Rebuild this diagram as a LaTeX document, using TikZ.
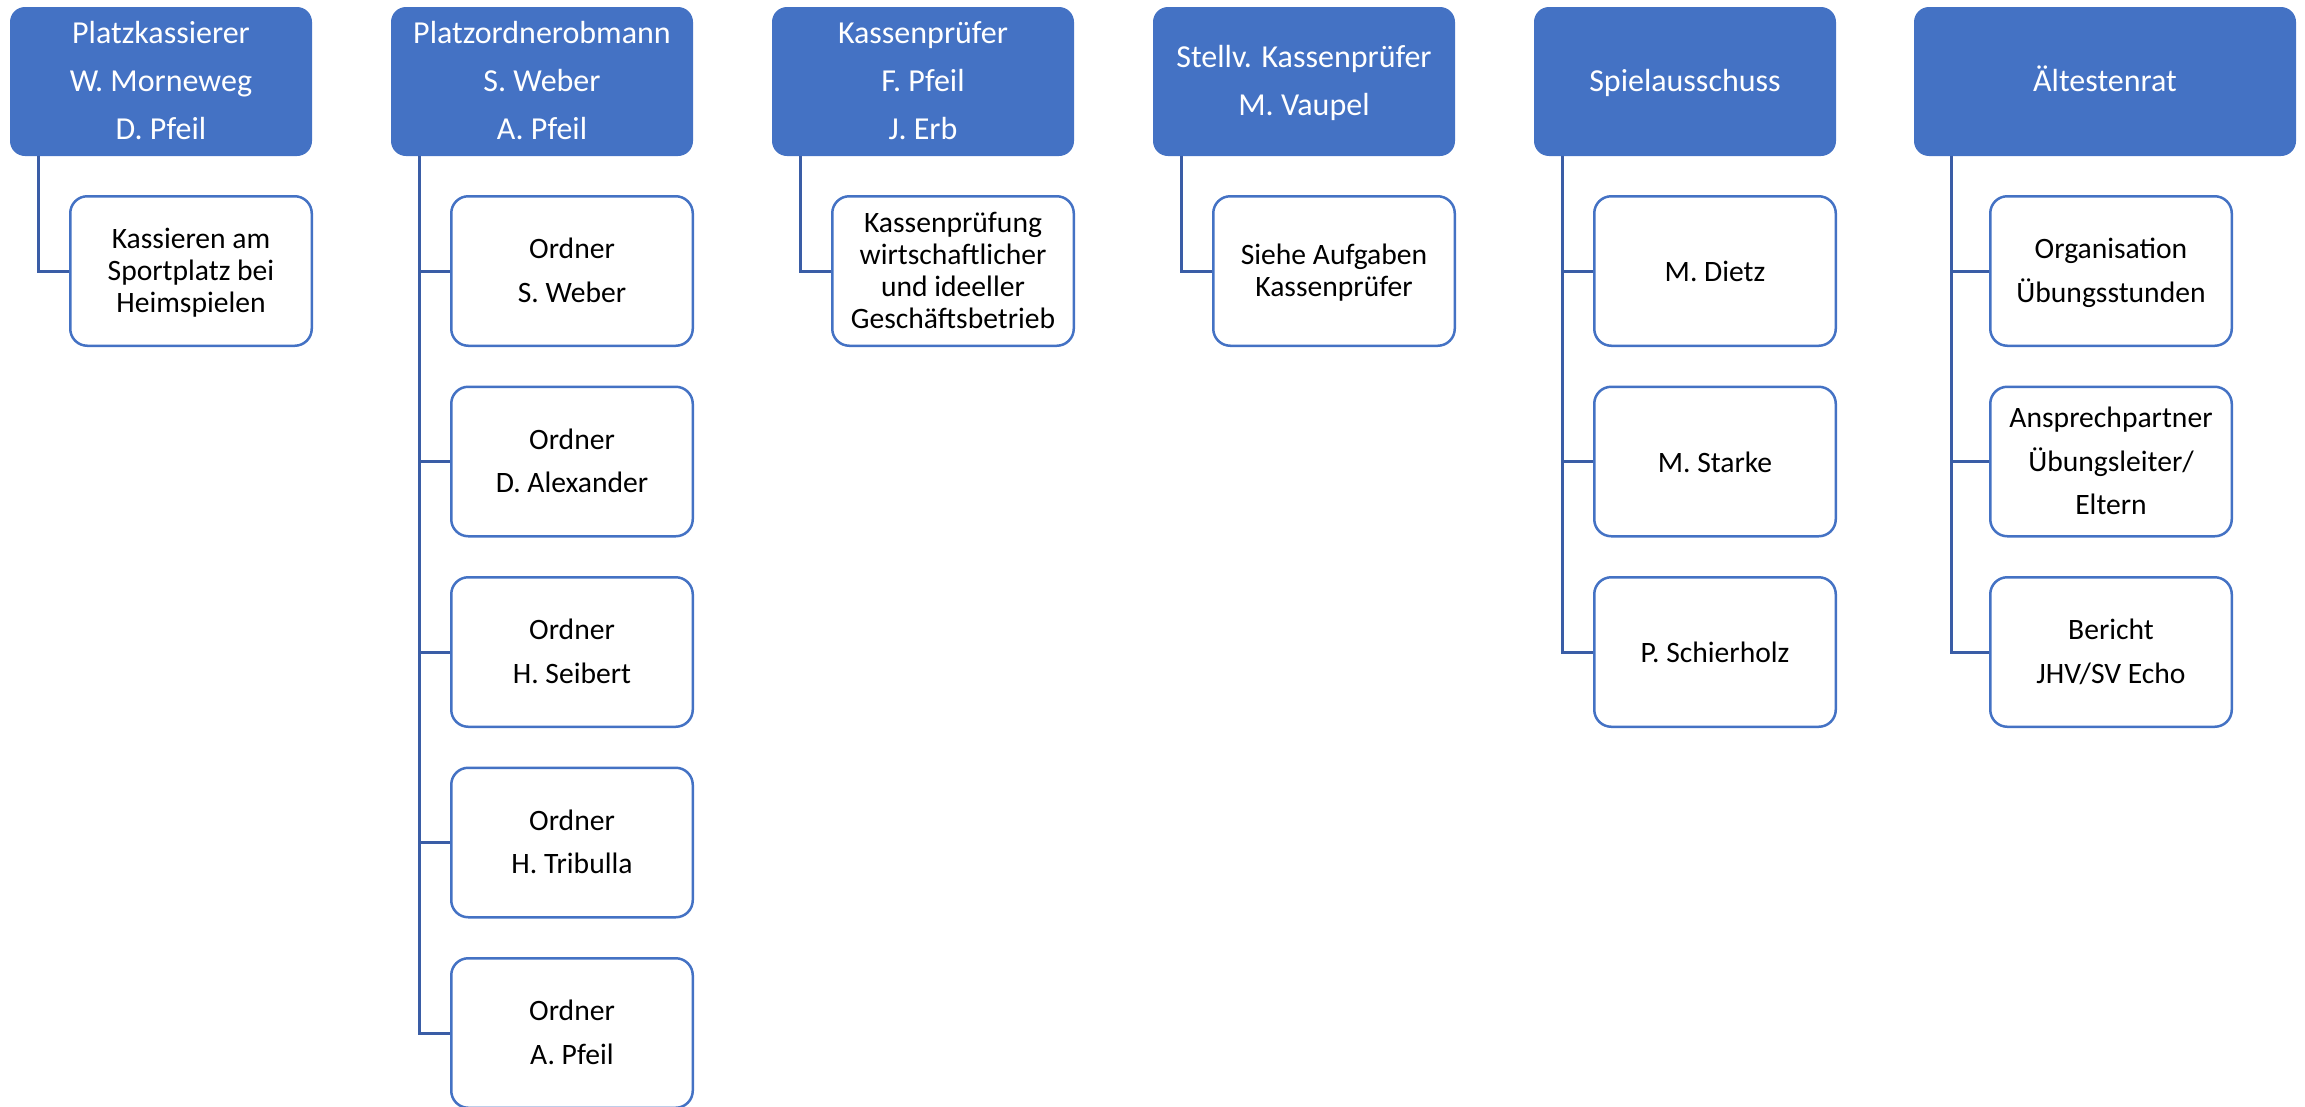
\documentclass[tikz,border=0pt]{standalone}
\usepackage{fontspec}
\setmainfont{Carlito}
\definecolor{headblue}{HTML}{4472C4}
\definecolor{linkblue}{HTML}{3A5DA6}
\newcommand\hstr{\rule[-6.5pt]{0pt}{33pt}}
\newcommand\cstr{\rule[-6pt]{0pt}{31pt}}
\newcommand\sstr{\rule[-5pt]{0pt}{31pt}}
\begin{document}
\begin{tikzpicture}[x=1pt,y=-1pt,
  headbox/.style={fill=headblue, draw=none, rounded corners=15pt, minimum width=302pt, minimum height=149pt, inner sep=0pt, text=white, align=center, font=\fontsize{32}{48.3}\selectfont},
  childbox/.style={draw=headblue, line width=2.5pt, fill=white, rounded corners=17pt, minimum width=241.5pt, minimum height=149.5pt, inner sep=0pt, align=center, font=\fontsize{29.6}{43.8}\selectfont},
  tight/.style={font=\fontsize{29.6}{31.7}\selectfont},
  conn/.style={draw=linkblue, line width=3pt}]
\useasboundingbox (0,0) rectangle (2305,1106);
% heads
\node[headbox] (h1) at (161,81.5) {\hstr Platzkassierer\\W. Morneweg\\D. Pfeil\hstr};
\node[headbox] (h2) at (542,81.5) {\hstr Platzordnerobmann\\S. Weber\\A. Pfeil\hstr};
\node[headbox] (h3) at (923,81.5) {\hstr Kassenprüfer\\F. Pfeil\\J. Erb\hstr};
\node[headbox] (h4) at (1304,81.5) {\hstr Stellv. Kassenprüfer\\M. Vaupel\hstr};
\node[headbox] (h5) at (1685,81.5) {\hstr Spielausschuss};
\node[headbox, minimum width=382pt] (h6) at (2105,81.5) {\hstr Ältestenrat};
% children
\node[childbox, tight] (c1a) at (191,271) {\cstr Kassieren am\\Sportplatz bei\\Heimspielen\cstr};
\node[childbox] (c2a) at (572,271) {\cstr Ordner\\S. Weber\cstr};
\node[childbox] (c2b) at (572,461.5) {\cstr Ordner\\D. Alexander\cstr};
\node[childbox] (c2c) at (572,652) {\cstr Ordner\\H. Seibert\cstr};
\node[childbox] (c2d) at (572,842.5) {\cstr Ordner\\H. Tribulla\cstr};
\node[childbox] (c2e) at (572,1033) {\cstr Ordner\\A. Pfeil\cstr};
\node[childbox, tight] (c3a) at (953,271) {\cstr Kassenprüfung\\wirtschaftlicher\\und ideeller\\Geschäftsbetrieb\cstr};
\node[childbox, tight] (c4a) at (1334,271) {\cstr Siehe Aufgaben\\Kassenprüfer\cstr};
\node[childbox] (c5a) at (1715,271) {\sstr M. Dietz};
\node[childbox] (c5b) at (1715,461.5) {\sstr M. Starke};
\node[childbox] (c5c) at (1715,652) {\sstr P. Schierholz};
\node[childbox] (c6a) at (2111,271) {\cstr Organisation\\Übungsstunden\cstr};
\node[childbox] (c6b) at (2111,461.5) {\cstr Ansprechpartner\\Übungsleiter/\\Eltern\cstr};
\node[childbox] (c6c) at (2111,652) {\cstr Bericht\\JHV/SV Echo\cstr};
% trunk start points
\coordinate (t1) at ([xshift=29pt]h1.south west);
\coordinate (t2) at ([xshift=29pt]h2.south west);
\coordinate (t3) at ([xshift=29pt]h3.south west);
\coordinate (t4) at ([xshift=29pt]h4.south west);
\coordinate (t5) at ([xshift=29pt]h5.south west);
\coordinate (t6) at ([xshift=38pt]h6.south west);
% connectors
\draw[conn] (t1) |- (c1a.west);
\foreach \c in {c2a,c2b,c2c,c2d,c2e} {\draw[conn] (t2) |- (\c.west);}
\draw[conn] (t3) |- (c3a.west);
\draw[conn] (t4) |- (c4a.west);
\foreach \c in {c5a,c5b,c5c} {\draw[conn] (t5) |- (\c.west);}
\foreach \c in {c6a,c6b,c6c} {\draw[conn] (t6) |- (\c.west);}
\end{tikzpicture}
\end{document}
